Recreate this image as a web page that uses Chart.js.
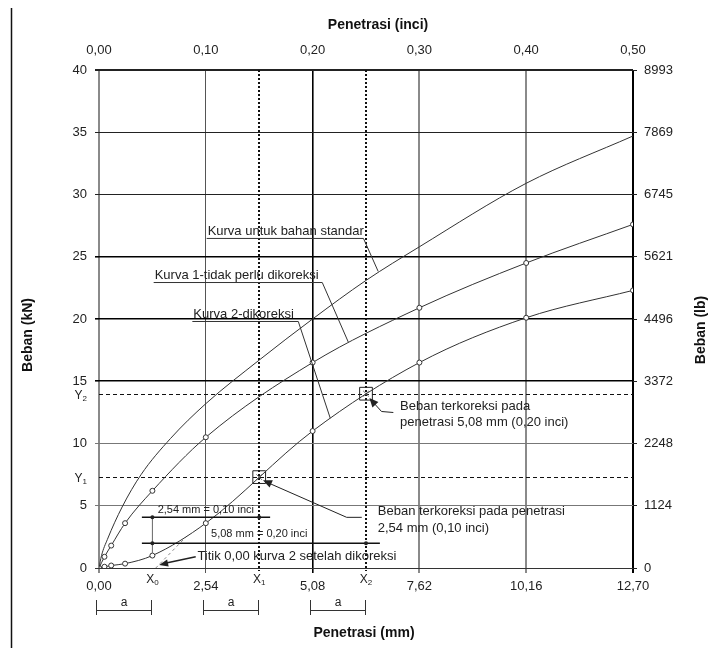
<!DOCTYPE html>
<html>
<head>
<meta charset="utf-8">
<script src="https://cdn.jsdelivr.net/npm/chart.js@4.4.0/dist/chart.umd.min.js"></script>
<style>
html, body { margin: 0; padding: 0; background: #fff; }
</style>
</head>
<body>
<canvas id="cbr" width="708" height="648"></canvas>
<script>
// CBR load-penetration chart

// Axis ticks and labels
const mmTicks = [0, 2.54, 5.08, 7.62, 10.16, 12.70];
const mmLabels = ['0,00', '2,54', '5,08', '7,62', '10,16', '12,70'];
const inchLabels = ['0,00', '0,10', '0,20', '0,30', '0,40', '0,50'];
const lbLabels = ['0', '1124', '2248', '3372', '4496', '5621', '6745', '7869', '8993'];

// Curve for standard material (no markers)
const stdX = [0, 0.06, 0.20, 0.55, 1.00, 1.70, 2.54, 3.81, 5.08, 6.35, 7.62, 10.16, 12.70];
const stdY = [0, 1.0, 2.3, 4.9, 7.5, 10.4, 13.2, 16.7, 20.0, 23.1, 25.8, 30.9, 34.7];

// Curve 1 - no correction needed
const c1X = [0, 0.13, 0.29, 0.62, 1.27, 2.54, 5.08, 7.62, 10.16, 12.70];
const c1Y = [0, 0.9, 1.8, 3.6, 6.2, 10.5, 16.5, 20.9, 24.5, 27.6];

// Curve 2 - corrected
const c2X = [0, 0.13, 0.29, 0.62, 1.27, 2.54, 5.08, 7.62, 10.16, 12.70];
const c2Y = [0, 0.1, 0.2, 0.35, 1.0, 3.6, 11.0, 16.5, 20.1, 22.3];

// Corrected loads (X1,Y1) and (X2,Y2), zero point X0
const xMarks = [1.27, 3.81, 6.35];
const yMarks = [7.3, 14.0];

// grid styles
const xGridColor = ['#8a8a8a', '#555', '#000', '#8a8a8a', '#8a8a8a', '#000'];
const xGridWidth = [2, 1, 1.6, 2, 2, 2];
const yGridColor = ['#333', '#777', '#777', '#000', '#000', '#000', '#222', '#222', '#222'];
const yGridWidth = [1, 1, 1, 1.6, 1.6, 1.6, 1, 1, 2];

const FONT = 'Arial, "Liberation Sans", Helvetica, sans-serif';
Chart.defaults.font.family = FONT;
Chart.defaults.color = '#222';

const pts = (xs, ys) => xs.map((v, i) => ({ x: v, y: ys[i] }));

function seg(ctx, x1, y1, x2, y2) {
    ctx.beginPath();
    ctx.moveTo(x1, y1);
    ctx.lineTo(x2, y2);
    ctx.stroke();
}

function arrowHead(ctx, fx, fy, tx, ty, len, half) {
    const a = Math.atan2(ty - fy, tx - fx);
    const c = Math.cos(a), s = Math.sin(a);
    ctx.beginPath();
    ctx.moveTo(tx, ty);
    ctx.lineTo(tx - len * c + half * s, ty - len * s - half * c);
    ctx.lineTo(tx - len * c - half * s, ty - len * s + half * c);
    ctx.closePath();
    ctx.fill();
}

function subLabel(ctx, main, sub, x, y, align) {
    ctx.font = '12px ' + FONT;
    const w1 = ctx.measureText(main).width;
    ctx.font = '8px ' + FONT;
    const w2 = ctx.measureText(sub).width;
    const start = align === 'right' ? x - w1 - w2 : x - (w1 + w2) / 2;
    ctx.textAlign = 'left';
    ctx.textBaseline = 'middle';
    ctx.font = '12px ' + FONT;
    ctx.fillText(main, start, y);
    ctx.font = '8px ' + FONT;
    ctx.fillText(sub, start + w1, y + 3);
}

// Labels with an underline and a leader to the curve (data units)
const curveNotes = [
    { text: 'Kurva untuk bahan standar', x0: 2.56, x1: 6.29, y: 26.47, tx: 6.64, ty: 23.82 },
    { text: 'Kurva 1-tidak perlu dikoreksi', x0: 1.30, x1: 5.31, y: 22.93, tx: 5.93, ty: 18.14 },
    { text: 'Kurva 2-dikoreksi', x0: 2.22, x1: 4.74, y: 19.8, tx: 5.50, ty: 12.03 }
];

const notes = {
    id: 'notes',
    beforeDatasetsDraw(chart) {
        const { ctx, chartArea: a, scales: { x, y } } = chart;
        ctx.save();
        ctx.strokeStyle = '#111';
        ctx.lineWidth = 2;
        ctx.setLineDash([2, 2]);
        [xMarks[1], xMarks[2]].forEach(v => {
            const p = Math.round(x.getPixelForValue(v));
            seg(ctx, p, a.top, p, a.bottom + 3);
        });
        ctx.lineWidth = 1;
        ctx.setLineDash([4, 3]);
        yMarks.forEach(v => {
            const p = Math.round(y.getPixelForValue(v)) + 0.5;
            seg(ctx, a.left, p, a.right, p);
        });
        // tangent extension of curve 2 down to the axis
        ctx.strokeStyle = '#888';
        ctx.setLineDash([3, 3]);
        seg(ctx, x.getPixelForValue(1.35), y.getPixelForValue(0), x.getPixelForValue(2.1), y.getPixelForValue(2.6));
        ctx.restore();
    },
    afterDatasetsDraw(chart) {
        const { ctx, scales: { x, y } } = chart;
        const X = v => x.getPixelForValue(v);
        const Y = v => y.getPixelForValue(v);
        ctx.save();
        ctx.fillStyle = '#222';
        ctx.strokeStyle = '#333';
        ctx.lineWidth = 1;

        // curve names
        ctx.font = '13px ' + FONT;
        ctx.textAlign = 'left';
        ctx.textBaseline = 'bottom';
        curveNotes.forEach(n => {
            ctx.fillText(n.text, X(n.x0) + 1, Y(n.y) - 1);
            ctx.beginPath();
            ctx.moveTo(X(n.x0), Y(n.y));
            ctx.lineTo(X(n.x1), Y(n.y));
            ctx.lineTo(X(n.tx), Y(n.ty));
            ctx.stroke();
        });

        // dimension lines
        ctx.strokeStyle = '#111';
        ctx.lineWidth = 1.5;
        seg(ctx, X(1.02), Y(4.07), X(4.07), Y(4.07));
        seg(ctx, X(1.02), Y(1.99), X(6.68), Y(1.99));
        ctx.strokeStyle = '#666';
        ctx.lineWidth = 1;
        seg(ctx, X(1.27), Y(4.07), X(1.27), Y(1.2));
        [[1.27, 4.07], [3.81, 4.07], [1.27, 1.99], [6.35, 1.99]].forEach(d => {
            ctx.beginPath();
            ctx.arc(X(d[0]), Y(d[1]), 2, 0, Math.PI * 2);
            ctx.fill();
        });
        ctx.font = '11px ' + FONT;
        ctx.textAlign = 'center';
        ctx.textBaseline = 'middle';
        ctx.fillText('2,54 mm = 0,10 inci', X(2.54), Y(4.66));
        ctx.fillText('5,08 mm = 0,20 inci', X(3.81), Y(2.7));

        // corrected load callouts
        ctx.strokeStyle = '#222';
        ctx.lineWidth = 1;
        ctx.font = '13px ' + FONT;
        ctx.textAlign = 'left';
        ctx.fillText('Beban terkoreksi pada', X(7.16), Y(13.0));
        ctx.fillText('penetrasi 5,08 mm (0,20 inci)', X(7.16), Y(11.68));
        ctx.beginPath();
        ctx.moveTo(X(7.00), Y(12.49));
        ctx.lineTo(X(6.72), Y(12.57));
        ctx.lineTo(X(6.47), Y(13.5));
        ctx.stroke();
        arrowHead(ctx, X(6.72), Y(12.57), X(6.43), Y(13.65), 9, 4);

        ctx.fillText('Beban terkoreksi pada penetrasi', X(6.63), Y(4.52));
        ctx.fillText('2,54 mm (0,10 inci)', X(6.63), Y(3.19));
        ctx.beginPath();
        ctx.moveTo(X(6.25), Y(4.07));
        ctx.lineTo(X(5.89), Y(4.07));
        ctx.lineTo(X(3.95), Y(6.95));
        ctx.stroke();
        arrowHead(ctx, X(5.89), Y(4.07), X(3.9), Y(7.05), 9, 4);

        ctx.fillText('Titik 0,00 kurva 2 setelah dikoreksi', X(2.34), Y(0.91));
        ctx.lineWidth = 1.5;
        seg(ctx, X(2.30), Y(0.91), X(1.6), Y(0.4));
        arrowHead(ctx, X(2.30), Y(0.91), X(1.43), Y(0.24), 9, 3.5);
        ctx.restore();
    },
    afterDraw(chart) {
        const { ctx, chartArea: a, scales: { x, y } } = chart;
        ctx.save();
        ctx.fillStyle = '#111';
        ctx.strokeStyle = '#111';

        // page border on the left
        ctx.lineWidth = 1.5;
        seg(ctx, 11.5, 8, 11.5, 648);

        // axis titles
        ctx.font = 'bold 14px ' + FONT;
        ctx.textAlign = 'center';
        ctx.textBaseline = 'middle';
        ctx.fillText('Penetrasi (inci)', 378, 25);
        ctx.fillText('Penetrasi (mm)', 364, 633);
        ctx.save();
        ctx.translate(28, 335);
        ctx.rotate(-Math.PI / 2);
        ctx.fillText('Beban (kN)', 0, 0);
        ctx.restore();
        ctx.save();
        ctx.translate(701, 330);
        ctx.rotate(-Math.PI / 2);
        ctx.fillText('Beban (lb)', 0, 0);
        ctx.restore();

        // X0, X1, X2 and Y1, Y2
        ctx.fillStyle = '#222';
        xMarks.forEach((v, i) => subLabel(ctx, 'X', String(i), x.getPixelForValue(v), a.bottom + 12, 'center'));
        yMarks.forEach((v, i) => subLabel(ctx, 'Y', String(i + 1), 87, y.getPixelForValue(v) + 2, 'right'));

        // "a" brackets
        ctx.strokeStyle = '#333';
        ctx.lineWidth = 1;
        ctx.font = '12px ' + FONT;
        ctx.textAlign = 'center';
        ctx.textBaseline = 'middle';
        [[0, 1.27], [2.54, 3.81], [5.08, 6.35]].forEach(b => {
            const l = Math.round(x.getPixelForValue(b[0])) - 2.5;
            const r = Math.round(x.getPixelForValue(b[1])) - 0.5;
            const yy = a.bottom + 42.5;
            seg(ctx, l, yy, r, yy);
            seg(ctx, l, a.bottom + 32, l, a.bottom + 47);
            seg(ctx, r, a.bottom + 32, r, a.bottom + 47);
            ctx.fillText('a', (l + r) / 2, a.bottom + 35);
        });
        ctx.restore();
    }
};

const ctx = document.getElementById('cbr').getContext('2d');

new Chart(ctx, {
    type: 'scatter',
    data: {
        datasets: [
            {
                label: 'Kurva untuk bahan standar',
                data: pts(stdX, stdY),
                showLine: true,
                borderColor: '#333',
                borderWidth: 1,
                pointRadius: 0,
                cubicInterpolationMode: 'monotone'
            },
            {
                label: 'Kurva 1',
                data: pts(c1X, c1Y),
                showLine: true,
                borderColor: '#333',
                borderWidth: 1,
                pointRadius: 2.5,
                pointBackgroundColor: '#fff',
                pointBorderColor: '#333',
                pointBorderWidth: 1,
                cubicInterpolationMode: 'monotone'
            },
            {
                label: 'Kurva 2',
                data: pts(c2X, c2Y),
                showLine: true,
                borderColor: '#333',
                borderWidth: 1,
                pointRadius: 2.5,
                pointBackgroundColor: '#fff',
                pointBorderColor: '#333',
                pointBorderWidth: 1,
                cubicInterpolationMode: 'monotone'
            },
            {
                label: 'Terkoreksi',
                data: pts(xMarks.slice(1), yMarks),
                showLine: false,
                pointStyle: 'rect',
                pointRadius: 9,
                pointBackgroundColor: 'rgba(255,255,255,0)',
                pointBorderColor: '#222',
                pointBorderWidth: 1
            },
            {
                label: 'Terkoreksi x',
                data: pts(xMarks.slice(1), yMarks),
                showLine: false,
                pointStyle: 'crossRot',
                pointRadius: 4,
                pointBorderColor: '#777',
                pointBorderWidth: 1
            }
        ]
    },
    options: {
        responsive: false,
        animation: false,
        events: [],
        layout: { padding: 0 },
        plugins: {
            legend: { display: false },
            tooltip: { enabled: false }
        },
        scales: {
            x: {
                type: 'linear',
                position: 'bottom',
                min: 0,
                max: 12.7,
                afterBuildTicks: s => { s.ticks = mmTicks.map(v => ({ value: v })); },
                afterFit: s => { s.height = 80; },
                ticks: {
                    callback: (v, i) => mmLabels[i],
                    font: { size: 13 },
                    color: '#222',
                    padding: 6,
                    maxRotation: 0,
                    autoSkip: false
                },
                grid: {
                    color: c => xGridColor[c.index],
                    lineWidth: c => xGridWidth[c.index],
                    tickLength: 5
                },
                border: { display: false }
            },
            x2: {
                type: 'linear',
                position: 'top',
                min: 0,
                max: 12.7,
                afterBuildTicks: s => { s.ticks = mmTicks.map(v => ({ value: v })); },
                afterFit: s => { s.height = 70; },
                ticks: {
                    callback: (v, i) => inchLabels[i],
                    font: { size: 13 },
                    color: '#222',
                    padding: 12,
                    maxRotation: 0,
                    autoSkip: false
                },
                grid: { display: false, drawTicks: false },
                border: { display: false }
            },
            y: {
                type: 'linear',
                position: 'left',
                min: 0,
                max: 40,
                afterFit: s => { s.width = 99; },
                ticks: {
                    stepSize: 5,
                    font: { size: 13 },
                    color: '#222',
                    padding: 8
                },
                grid: {
                    color: c => yGridColor[c.index],
                    lineWidth: c => yGridWidth[c.index],
                    tickLength: 4
                },
                border: { display: false }
            },
            y2: {
                type: 'linear',
                position: 'right',
                min: 0,
                max: 40,
                afterFit: s => { s.width = 75; },
                ticks: {
                    stepSize: 5,
                    callback: (v, i) => lbLabels[i],
                    font: { size: 13 },
                    color: '#222',
                    padding: 7
                },
                grid: {
                    drawOnChartArea: false,
                    color: '#222',
                    tickLength: 4
                },
                border: { display: false }
            }
        }
    },
    plugins: [notes]
});
</script>
</body>
</html>
